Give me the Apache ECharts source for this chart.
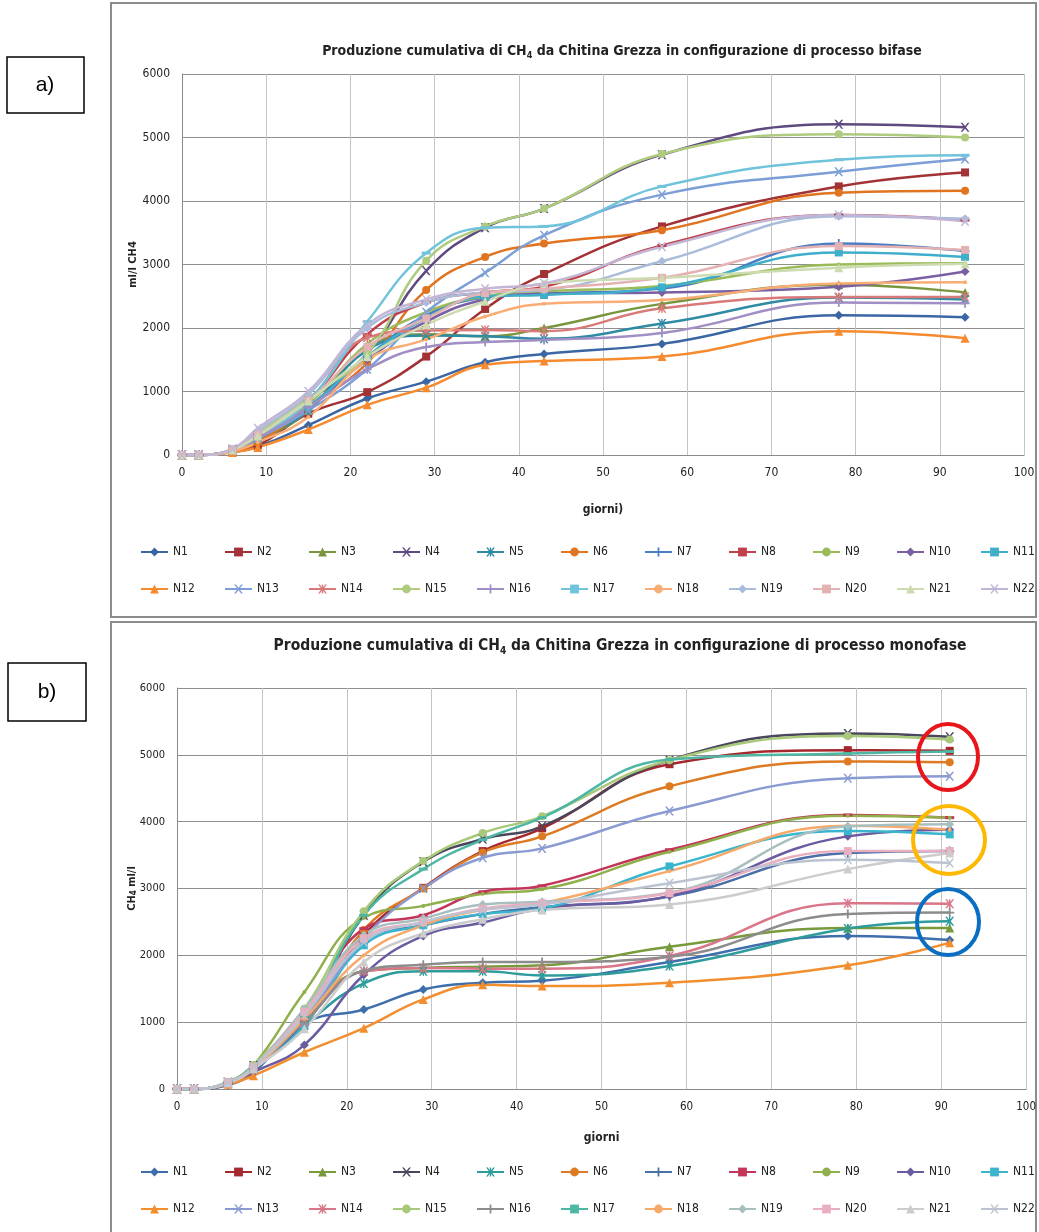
<!DOCTYPE html>
<html>
<head>
<meta charset="utf-8">
<script src="https://cdn.jsdelivr.net/npm/echarts@6/dist/echarts.min.js"></script>
<style>
  html, body { margin: 0; padding: 0; background: #fff; }
  #c { width: 1039px; height: 1232px; }
</style>
</head>
<body>
<div id="c"></div>
<script>
// ---------- DATA ----------
const seriesNames = ['N1','N2','N3','N4','N5','N6','N7','N8','N9','N10','N11','N12','N13','N14','N15','N16','N17','N18','N19','N20','N21','N22'];
const daysA = [0, 2, 6, 9, 15, 22, 29, 36, 43, 57, 78, 93];
const daysB = [0, 2, 6, 9, 15, 22, 29, 36, 43, 58, 79, 91];

// a) bifase
const A_N1  = [0,0,50,130,470,890,1155,1460,1590,1750,2200,2170];
const A_N2  = [0,0,60,150,650,990,1550,2300,2850,3600,4230,4450];
const A_N3  = [0,0,70,220,700,1700,1900,1870,2000,2380,2680,2560];
const A_N4  = [0,0,80,300,850,1600,2900,3580,3880,4730,5210,5160];
const A_N5  = [0,0,70,250,700,1650,1880,1870,1830,2070,2480,2450];
const A_N6  = [0,0,60,200,750,1450,2600,3120,3330,3540,4130,4160];
const A_N7  = [0,0,70,260,760,1550,2200,2480,2540,2620,3330,3210];
const A_N8  = [0,0,80,320,850,1900,2400,2560,2650,3300,3780,3700];
const A_N9  = [0,0,80,300,800,1750,2250,2500,2580,2660,3000,3020];
const A_N10 = [0,0,70,260,750,1500,2100,2450,2540,2560,2650,2890];
const A_N11 = [0,0,70,260,750,1550,2150,2500,2520,2640,3190,3120];
const A_N12 = [0,0,40,120,400,790,1060,1420,1480,1550,1950,1840];
const A_N13 = [0,0,80,260,700,1350,2250,2870,3460,4100,4460,4660];
const A_N14 = [0,0,80,300,850,1850,1960,1970,1950,2310,2490,2490];
const A_N15 = [0,0,90,350,900,1600,3060,3600,3880,4740,5050,5000];
const A_N16 = [0,0,70,260,750,1350,1700,1780,1810,1920,2400,2390];
const A_N17 = [0,0,80,300,850,2100,3180,3580,3600,4230,4650,4720];
const A_N18 = [0,0,60,200,600,1500,1820,2180,2380,2440,2700,2720];
const A_N19 = [0,0,90,380,950,2000,2400,2560,2600,3050,3760,3720];
const A_N20 = [0,0,80,320,850,1700,2150,2550,2620,2790,3290,3230];
const A_N21 = [0,0,80,300,850,1550,2050,2420,2700,2790,2950,3010];
const A_N22 = [0,0,100,420,1000,2050,2450,2620,2700,3280,3780,3680];

// b) monofase
const B_N1  = [0,0,60,250,980,1190,1490,1590,1620,1900,2290,2230];
const B_N2  = [0,0,100,330,1000,2300,3010,3560,3900,4860,5070,5060];
const B_N3  = [0,0,100,320,1100,1760,1810,1830,1850,2130,2410,2410];
const B_N4  = [0,0,100,350,1050,2600,3400,3740,3930,4920,5320,5270];
const B_N5  = [0,0,90,300,950,1580,1760,1760,1700,1840,2400,2510];
const B_N6  = [0,0,90,300,1000,2380,3000,3540,3780,4530,4900,4890];
const B_N7  = [0,0,90,300,1000,2200,2450,2620,2720,2880,3530,3560];
const B_N8  = [0,0,100,330,1100,2400,2600,2950,3040,3580,4100,4060];
const B_N9  = [0,0,100,350,1450,2560,2740,2920,2990,3550,4090,4060];
const B_N10 = [0,0,80,250,660,1710,2290,2490,2700,2890,3780,3880];
const B_N11 = [0,0,90,300,950,2150,2450,2620,2700,3330,3860,3810];
const B_N12 = [0,0,70,200,550,910,1340,1560,1540,1590,1850,2190];
const B_N13 = [0,0,100,330,1050,2250,3000,3460,3600,4160,4650,4680];
const B_N14 = [0,0,90,300,1000,1760,1810,1800,1800,1990,2780,2770];
const B_N15 = [0,0,110,360,1200,2660,3410,3830,4080,4920,5280,5230];
const B_N16 = [0,0,90,300,1000,1770,1860,1900,1900,1980,2620,2640];
const B_N17 = [0,0,100,350,1100,2600,3290,3730,4060,4930,5020,5050];
const B_N18 = [0,0,90,300,1050,2000,2450,2680,2780,3260,3940,3880];
const B_N19 = [0,0,100,330,1200,2300,2550,2760,2800,2940,3930,3960];
const B_N20 = [0,0,100,330,1150,2250,2500,2700,2780,2930,3560,3560];
const B_N21 = [0,0,90,300,900,1900,2330,2540,2680,2760,3290,3530];
const B_N22 = [0,0,100,330,1100,2200,2500,2680,2760,3080,3430,3380];

const valuesA = [A_N1,A_N2,A_N3,A_N4,A_N5,A_N6,A_N7,A_N8,A_N9,A_N10,A_N11,A_N12,A_N13,A_N14,A_N15,A_N16,A_N17,A_N18,A_N19,A_N20,A_N21,A_N22];
const valuesB = [B_N1,B_N2,B_N3,B_N4,B_N5,B_N6,B_N7,B_N8,B_N9,B_N10,B_N11,B_N12,B_N13,B_N14,B_N15,B_N16,B_N17,B_N18,B_N19,B_N20,B_N21,B_N22];

// ---------- STYLE ----------
const colorsA = ['#3A67A3','#A33236','#79963E','#5E4A80','#2E8BA3','#E07420','#4A7EC4','#C0404A','#9BBB59','#7A5FA3','#3FAECB','#F58A2E','#7B9FD6','#D97A7A','#AFCB7E','#A08EC4','#6FC3DA','#F9AD75','#A9BCDA','#E5B2B4','#CCDBB0','#C3B5D6'];
const colorsB = ['#3F6EAC','#A5282E','#789A3A','#4A465C','#2E9C9C','#DE7A22','#4A6EA8','#C4355A','#8FB04A','#6B5BA0','#3BB5CE','#F28E2E','#8A9BD2','#D9768A','#A9C97A','#8C8C8C','#4DB7A3','#F7A96A','#A8BFC0','#E9AFC0','#CCCCCC','#BCC3D0'];

const FONT = "'Liberation Sans Narrow', 'DejaVu Sans Condensed', 'Liberation Sans', sans-serif";
const X_PATH = 'path://M0,0 L2,0 L5,3.5 L8,0 L10,0 L6,5 L10,10 L8,10 L5,6.5 L2,10 L0,10 L4,5 Z';
const STAR_PATH = 'path://M0,0 L2,0 L4.2,3 L4.2,0 L5.8,0 L5.8,3 L8,0 L10,0 L6.2,5 L10,10 L8,10 L5.8,7 L5.8,10 L4.2,10 L4.2,7 L2,10 L0,10 L3.8,5 Z';
const PLUS_PATH = 'path://M4,0 L6,0 L6,4 L10,4 L10,6 L6,6 L6,10 L4,10 L4,6 L0,6 L0,4 L4,4 Z';
const DASH_PATH = 'path://M0,0 L10,0 L10,2 L0,2 Z';
const markerCycle = [
  {s:'diamond', z:9}, {s:'rect', z:8}, {s:'triangle', z:9}, {s:X_PATH, z:9},
  {s:STAR_PATH, z:9}, {s:'circle', z:8}, {s:PLUS_PATH, z:9}, {s:DASH_PATH, z:[9,3]}, {s:'circle', z:4}
];

function buildSeries(values, days, colors, suffix, gridIdx) {
  return values.map((vals, i) => {
    const m = markerCycle[i % markerCycle.length];
    return {
      name: seriesNames[i] + suffix,
      type: 'line',
      xAxisIndex: gridIdx, yAxisIndex: gridIdx,
      smooth: 0.45,
      data: days.map((d, k) => [d, vals[k]]),
      symbol: m.s,
      symbolSize: m.z,
      showSymbol: true,
      lineStyle: { color: colors[i], width: 2.5 },
      itemStyle: { color: colors[i], borderWidth: 0 },
      emphasis: { disabled: true },
      animation: false
    };
  });
}

function xAxisCfg(gridIdx, name, gap, fs) {
  return {
    gridIndex: gridIdx, type: 'value', min: 0, max: 100, interval: 10,
    name: name, nameLocation: 'middle', nameGap: gap, nameMoveOverlap: false,
    nameTextStyle: { fontFamily: FONT, fontWeight: 'bold', fontSize: 12, color: '#222' },
    axisLine: { show: true, lineStyle: { color: '#8a8a8a', width: 1 } },
    axisTick: { show: false },
    axisLabel: { fontFamily: FONT, fontSize: fs, color: '#222', margin: 12, formatter: v => String(v) },
    splitLine: { show: true, lineStyle: { color: '#c4c4c4', width: 1 } }
  };
}
function yAxisCfg(gridIdx, name, gap, fs, rich) {
  return {
    gridIndex: gridIdx, type: 'value', min: 0, max: 6000, interval: 1000,
    name: name, nameLocation: 'middle', nameGap: gap, nameRotate: 90, nameMoveOverlap: false,
    nameTextStyle: { fontFamily: FONT, fontWeight: 'bold', fontSize: 11, color: '#222', rich: rich },
    axisLine: { show: true, lineStyle: { color: '#8a8a8a', width: 1 } },
    axisTick: { show: false },
    axisLabel: { fontFamily: FONT, fontSize: fs, color: '#222', margin: 12, formatter: v => String(v) },
    splitLine: { show: true, lineStyle: { color: '#8f8f8f', width: 1 } }
  };
}

// one legend component per item so every entry sits in a fixed Excel-like column
function legendItems(names, top) {
  return names.map((n, col) => ({
    data: [n], top: top, left: 140 + col * 84, orient: 'horizontal',
    padding: 0, itemWidth: 27, itemHeight: 11, itemGap: 0,
    selectedMode: false,
    formatter: s => s.trim(),
    textStyle: { fontFamily: FONT, fontSize: 12, color: '#222' }
  }));
}

const namesA = seriesNames.slice();
const namesB = seriesNames.map(n => n + ' ');

const chart = echarts.init(document.getElementById('c'), null, { renderer: 'canvas', width: 1039, height: 1232 });
chart.setOption({
  backgroundColor: '#fff',
  animation: false,
  title: [
    { text: 'Produzione cumulativa di CH{s|4} da Chitina Grezza in configurazione di processo bifase',
      left: 617, top: 37, textAlign: 'center',
      textStyle: { fontFamily: FONT, fontWeight: 'bold', fontSize: 14, color: '#222', lineHeight: 18,
        rich: { s: { fontFamily: FONT, fontWeight: 'bold', fontSize: 9, lineHeight: 12, verticalAlign: 'bottom', color: '#222' } } } },
    { text: 'Produzione cumulativa di CH{s|4} da Chitina Grezza in configurazione di processo monofase',
      left: 615, top: 631, textAlign: 'center',
      textStyle: { fontFamily: FONT, fontWeight: 'bold', fontSize: 15.5, color: '#222', lineHeight: 20,
        rich: { s: { fontFamily: FONT, fontWeight: 'bold', fontSize: 10, lineHeight: 13, verticalAlign: 'bottom', color: '#222' } } } }
  ],
  grid: [
    { left: 182, top: 74, width: 842, height: 381, containLabel: false },
    { left: 177, top: 688, width: 850, height: 401, containLabel: false }
  ],
  xAxis: [ xAxisCfg(0, 'giorni)', 49, 12), xAxisCfg(1, 'giorni', 43, 11.5) ],
  yAxis: [
    yAxisCfg(0, 'ml/l CH4', 43, 12, {}),
    yAxisCfg(1, 'CH{s|4} ml/l', 39, 11, { s: { fontFamily: FONT, fontWeight: 'bold', fontSize: 8, verticalAlign: 'bottom', lineHeight: 12 } })
  ],
  legend: [].concat(
    legendItems(namesA.slice(0, 11), 546),
    legendItems(namesA.slice(11), 583),
    legendItems(namesB.slice(0, 11), 1166),
    legendItems(namesB.slice(11), 1203)
  ),
  series: buildSeries(valuesA, daysA, colorsA, '', 0).concat(buildSeries(valuesB, daysB, colorsB, ' ', 1)),
  graphic: [
    { type: 'rect', shape: { x: 111, y: 3, width: 925, height: 614 }, style: { fill: null, stroke: '#8c8c8c', lineWidth: 2 }, z: -1 },
    { type: 'rect', shape: { x: 111, y: 622, width: 925, height: 620 }, style: { fill: null, stroke: '#8c8c8c', lineWidth: 2 }, z: -1 },
    { type: 'rect', shape: { x: 7, y: 57, width: 77, height: 56 }, style: { fill: '#fff', stroke: '#000', lineWidth: 1.5 } },
    { type: 'text', x: 45, y: 85, style: { text: 'a)', fontFamily: "'Liberation Sans', Arial, sans-serif", fontSize: 21, fill: '#000', align: 'center', verticalAlign: 'middle' } },
    { type: 'rect', shape: { x: 8, y: 663, width: 78, height: 58 }, style: { fill: '#fff', stroke: '#000', lineWidth: 1.5 } },
    { type: 'text', x: 47, y: 692, style: { text: 'b)', fontFamily: "'Liberation Sans', Arial, sans-serif", fontSize: 21, fill: '#000', align: 'center', verticalAlign: 'middle' } },
    { type: 'ellipse', shape: { cx: 948, cy: 757, rx: 30, ry: 33 }, style: { fill: null, stroke: '#E8161B', lineWidth: 4 }, z: 100 },
    { type: 'ellipse', shape: { cx: 949, cy: 840, rx: 36, ry: 34 }, style: { fill: null, stroke: '#FFB800', lineWidth: 4 }, z: 100 },
    { type: 'ellipse', shape: { cx: 948, cy: 922, rx: 31, ry: 33 }, style: { fill: null, stroke: '#0A6FC2', lineWidth: 4 }, z: 100 }
  ]
});
</script>
</body>
</html>
